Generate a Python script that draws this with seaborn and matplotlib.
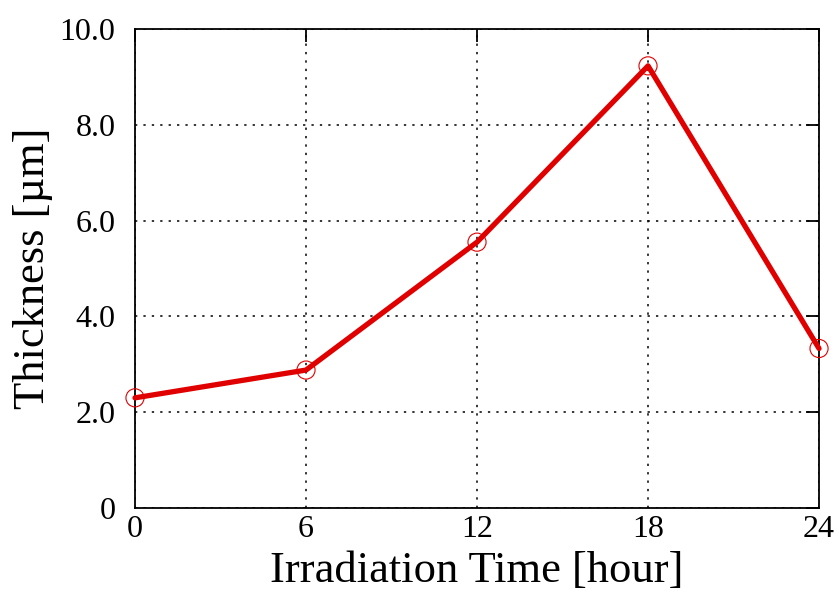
import matplotlib
matplotlib.use("Agg")
import matplotlib.pyplot as plt
import seaborn as sns
import pandas as pd

hours = [0, 6, 12, 18, 24]
thickness = [2.30, 2.88, 5.55, 9.23, 3.33]
x_ticks = [0, 6, 12, 18, 24]
y_ticks = [0, 2, 4, 6, 8, 10]
y_tick_labels = ["0", "2.0", "4.0", "6.0", "8.0", "10.0"]

sns.set_theme(style="white")
plt.rcParams['font.family'] = ['Liberation Serif', 'DejaVu Serif']

df = pd.DataFrame({"hour": hours, "thick": thickness})

fig = plt.figure(figsize=(8.39, 6.0), dpi=100)
ax = fig.add_axes([0.1609, 0.1533, 0.8153, 0.7984])

ax.grid(True, color="black", linestyle=(0, (1.5, 4)), linewidth=1.1)
ax.set_axisbelow(True)

sns.lineplot(data=df, x="hour", y="thick", ax=ax, color="#e00000",
             linewidth=3.8, zorder=3, clip_on=False)
sns.scatterplot(data=df, x="hour", y="thick", ax=ax, marker="o",
                s=170, facecolor="none", edgecolor="#e00000",
                linewidth=0.8, zorder=4, clip_on=False)

ax.set_xlim(0, 24)
ax.set_ylim(0, 10)
ax.set_xticks(x_ticks)
ax.set_yticks(y_ticks)
ax.set_yticklabels(y_tick_labels)
ax.tick_params(direction="in", length=9.5, width=1.3, top=True, right=True,
               labelsize=23, colors="black")
ax.tick_params(axis="y", pad=14)
ax.tick_params(axis="x", pad=5)
for s in ax.spines.values():
    s.set_color("black")
    s.set_linewidth(1.3)

ax.set_xlabel("Irradiation Time [hour]", fontsize=32, color="black", labelpad=5)
ax.set_ylabel("Thickness [µm]", fontsize=32, color="black", labelpad=5)

fig.savefig("out.png", dpi=100)
